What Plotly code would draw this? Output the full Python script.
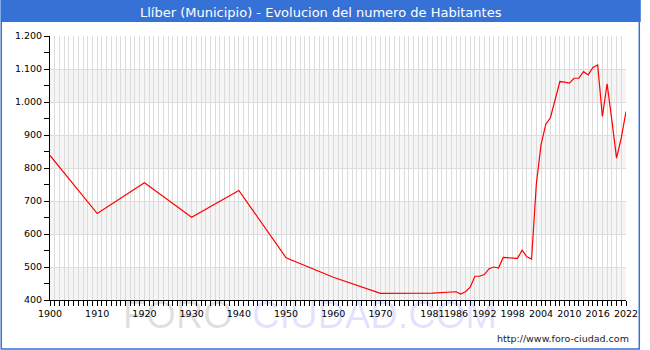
import plotly.graph_objects as go

# ---- data ----
years = [1900, 1910, 1920, 1930, 1940, 1950, 1960, 1970, 1981, 1986,
         1987, 1988, 1989, 1990, 1991, 1992, 1993, 1994, 1995, 1996,
         1998, 1999, 2000, 2001, 2002, 2003, 2004, 2005, 2006, 2007,
         2008, 2009, 2010, 2011, 2012, 2013, 2014, 2015, 2016, 2017,
         2018, 2019, 2020, 2021, 2022]
habitantes = [838, 662, 755, 651, 732, 528, 469, 420, 421, 425,
              418, 425, 439, 472, 472, 477, 495, 500, 497, 529,
              527, 526, 551, 531, 524, 750, 870, 932, 953, 1008,
              1062, 1060, 1057, 1072, 1072, 1092, 1082, 1105, 1112, 956,
              1055, 945, 830, 891, 971]

x_tickvals = [1900, 1910, 1920, 1930, 1940, 1950, 1960, 1970, 1981, 1986,
              1992, 1998, 2004, 2010, 2016, 2022]
x_ticktext = [str(v) for v in x_tickvals]
y_tickvals = [400, 500, 600, 700, 800, 900, 1000, 1100, 1200]
y_ticktext = ["400", "500", "600", "700", "800", "900", "1.000", "1.100", "1.200"]
band_starts = [400, 600, 800, 1000]

title = "Llíber (Municipio) - Evolucion del numero de Habitantes"

# ---- layout geometry (pixels) ----
W, H = 650, 350
ML, MR, MT, MB = 50, 15, 36, 50
PW, PH = W - ML - MR, H - MT - MB


def px_x(p):
    return (p - ML) / PW


def px_y(p):
    return (H - MB - p) / PH


BLUE = "#3672d6"
FONT = "DejaVu Sans"

fig = go.Figure()
fig.add_trace(go.Scatter(
    x=years, y=habitantes, mode="lines",
    line=dict(color="#ff0000", width=1.2),
    hoverinfo="x+y", showlegend=False,
))

shapes = []
for b in band_starts:
    shapes.append(dict(type="rect", xref="paper", yref="y", x0=0, x1=1,
                       y0=b, y1=b + 100, fillcolor="#f5f5f5",
                       line=dict(width=0), layer="below"))
# title bar
shapes.append(dict(type="rect", xref="paper", yref="paper",
                   x0=px_x(0), x1=px_x(W), y0=px_y(22), y1=px_y(0),
                   fillcolor=BLUE, line=dict(width=0), layer="above"))
# frame border
shapes.append(dict(type="rect", xref="paper", yref="paper",
                   x0=px_x(0.5), x1=px_x(W - 1.5), y0=px_y(H - 1), y1=px_y(0),
                   fillcolor="rgba(0,0,0,0)", line=dict(color=BLUE, width=1.5),
                   layer="above"))

annotations = [
    dict(text=title, xref="paper", yref="paper", x=px_x(W / 2), y=px_y(12),
         xanchor="center", yanchor="middle", showarrow=False,
         font=dict(family=FONT, size=13, color="white")),
    dict(text="FORO", xref="paper", yref="paper", x=px_x(180), y=px_y(315),
         xanchor="center", yanchor="middle", showarrow=False,
         font=dict(family="Liberation Sans", size=38, color="rgba(0,0,0,0.12)")),
    dict(text="CIUDAD.COM", xref="paper", yref="paper", x=px_x(380), y=px_y(315),
         xanchor="center", yanchor="middle", showarrow=False,
         font=dict(family="Liberation Sans", size=38, color="rgba(30,30,255,0.13)")),
    dict(text="http://www.foro-ciudad.com", xref="paper", yref="paper",
         x=px_x(640), y=px_y(338), xanchor="right", yanchor="middle",
         showarrow=False, font=dict(family=FONT, size=9.5, color="#222222")),
]

fig.update_layout(
    width=W, height=H,
    margin=dict(l=ML, r=MR, t=MT, b=MB, pad=0),
    paper_bgcolor="white", plot_bgcolor="white",
    shapes=shapes, annotations=annotations,
    font=dict(family=FONT, size=9.5, color="black"),
)
fig.update_xaxes(
    range=[1900, 2022], tickmode="array", tickvals=x_tickvals, ticktext=x_ticktext,
    tickangle=0, ticks="outside", ticklen=5, tickcolor="black", tickwidth=1,
    showline=True, linecolor="black", linewidth=1,
    showgrid=True, gridcolor="#dcdcdc", gridwidth=1, zeroline=False,
    minor=dict(dtick=1, tick0=1900, ticks="outside", ticklen=5, tickcolor="black",
               showgrid=True, gridcolor="#dcdcdc", gridwidth=1),
    tickfont=dict(family=FONT, size=9.5, color="black"),
)
fig.update_yaxes(
    range=[400, 1200], tickmode="array", tickvals=y_tickvals, ticktext=y_ticktext,
    ticks="outside", ticklen=5, tickcolor="black", tickwidth=1,
    showline=True, linecolor="black", linewidth=1,
    showgrid=True, gridcolor="#dcdcdc", gridwidth=1, zeroline=False,
    minor=dict(dtick=50, tick0=400, ticks="outside", ticklen=5, tickcolor="black",
               showgrid=False),
    tickfont=dict(family=FONT, size=9.5, color="black"),
)

fig.write_html("out.html")
